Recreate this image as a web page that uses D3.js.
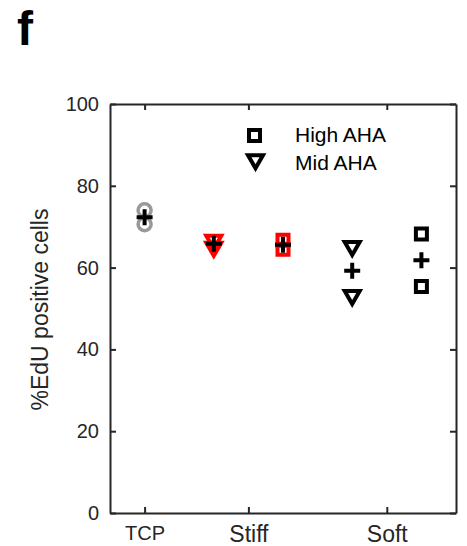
<!DOCTYPE html>
<html>
<head>
<meta charset="utf-8">
<script src="https://cdn.jsdelivr.net/npm/d3@7"></script>
<style>
  body { margin: 0; background: #fff; }
  svg { display: block; font-family: "Liberation Sans", Arial, sans-serif; }
</style>
</head>
<body>
<svg id="chart" width="467" height="546"></svg>
<script>
// Category axis labels and where they sit on the numeric x axis
const categories = ["TCP", "Stiff", "Soft"];
const categoryPos = [1, 4, 8];
const yTicks = [0, 20, 40, 60, 80, 100];

// Replicate values (%EdU positive cells) per condition
const tcpValues = [74.0, 70.6];
const stiffMidValues = [66.7, 65.0];
const stiffHighValues = [66.7, 64.5];
const softMidValues = [65.2, 53.2];
const softHighValues = [68.2, 55.4];

// x position of each condition group
const groupX = { tcp: 1, stiffMid: 3, stiffHigh: 5, softMid: 7, softHigh: 9 };

const legendLabels = ["High AHA", "Mid AHA"];

const svg = d3.select("#chart");
const axisColor = "#262626";

const x = d3.scaleLinear().domain([0, 10]).range([110, 456]);
const y = d3.scaleLinear().domain([0, 100]).range([513, 104]);

// Marker shapes
const TRI_A = 7.5, TRI_H = TRI_A * Math.sqrt(3);
const triDown = `M${-TRI_A},${-TRI_H / 3}L${TRI_A},${-TRI_H / 3}L0,${2 * TRI_H / 3}Z`;
const SQ = 5.5;
const squarePath = `M${-SQ},${-SQ}H${SQ}V${SQ}H${-SQ}Z`;
const PL = 8;
const plusPath = `M${-PL},0H${PL}M0,${-PL}V${PL}`;

function drawMarkers(values, gx, path, color, width) {
  svg.append("g").selectAll("path")
    .data(values).join("path")
    .attr("d", path)
    .attr("transform", d => `translate(${x(gx)},${y(d)})`)
    .attr("fill", "none")
    .attr("stroke", color)
    .attr("stroke-width", width);
}
function drawCircles(values, gx, color) {
  svg.append("g").selectAll("circle")
    .data(values).join("circle")
    .attr("cx", x(gx)).attr("cy", d => y(d)).attr("r", 6.5)
    .attr("fill", "none").attr("stroke", color).attr("stroke-width", 3.5);
}
function drawMean(values, gx) {
  svg.append("path")
    .attr("d", plusPath)
    .attr("transform", `translate(${x(gx)},${y(d3.mean(values))})`)
    .attr("fill", "none").attr("stroke", "#000").attr("stroke-width", 4);
}

// Axes (box with inward ticks)
const gLeft = svg.append("g").attr("transform", `translate(${x(0)},0)`)
  .call(d3.axisLeft(y).tickValues(yTicks).tickSizeInner(-6).tickSizeOuter(0).tickPadding(11));
const gRight = svg.append("g").attr("transform", `translate(${x(10)},0)`)
  .call(d3.axisRight(y).tickValues(yTicks).tickSizeInner(-6).tickSizeOuter(0).tickFormat(""));
const gTop = svg.append("g").attr("transform", `translate(0,${y(100)})`)
  .call(d3.axisTop(x).tickValues(categoryPos).tickSizeInner(-6).tickSizeOuter(0).tickFormat(""));
const gBottom = svg.append("g").attr("transform", `translate(0,${y(0)})`)
  .call(d3.axisBottom(x).tickValues(categoryPos).tickSizeInner(-6).tickSizeOuter(0)
    .tickFormat((d, i) => categories[i]).tickPadding(13));

[gLeft, gRight, gTop, gBottom].forEach(g => {
  g.select(".domain").attr("stroke", axisColor).attr("stroke-width", 2);
  g.selectAll(".tick line").attr("stroke", axisColor).attr("stroke-width", 2);
  g.selectAll("text").attr("fill", axisColor).attr("font-family", "Liberation Sans, Arial, sans-serif");
});
gLeft.selectAll("text").attr("font-size", 20);
gBottom.selectAll("text")
  .attr("font-size", (d, i) => i === 0 ? 20 : 23)
  .attr("dy", "0.71em");

// Y axis title
svg.append("text")
  .attr("transform", `translate(48,${(y(0) + y(100)) / 2 + 1}) rotate(-90)`)
  .attr("text-anchor", "middle")
  .attr("font-size", 23)
  .attr("fill", axisColor)
  .text("%EdU positive cells");

// Panel letter
svg.append("text")
  .attr("x", 17).attr("y", 45)
  .attr("font-size", 48).attr("font-weight", "bold")
  .attr("fill", "#000")
  .text("f");

// Data markers
drawCircles(tcpValues, groupX.tcp, "#999999");
drawMarkers(stiffMidValues, groupX.stiffMid, triDown, "#ff0000", 4);
drawMarkers(stiffHighValues, groupX.stiffHigh, squarePath, "#ff0000", 4);
drawMarkers(softMidValues, groupX.softMid, triDown, "#000", 4);
drawMarkers(softHighValues, groupX.softHigh, squarePath, "#000", 4);

// Group means
drawMean(tcpValues, groupX.tcp);
drawMean(stiffMidValues, groupX.stiffMid);
drawMean(stiffHighValues, groupX.stiffHigh);
drawMean(softMidValues, groupX.softMid);
drawMean(softHighValues, groupX.softHigh);

// Legend
const legend = svg.append("g");
legend.append("path").attr("d", squarePath)
  .attr("transform", "translate(254.5,135.5)")
  .attr("fill", "none").attr("stroke", "#000").attr("stroke-width", 4);
legend.append("path").attr("d", triDown)
  .attr("transform", "translate(255.5,159.5)")
  .attr("fill", "none").attr("stroke", "#000").attr("stroke-width", 4);
legend.selectAll("text")
  .data(legendLabels).join("text")
  .attr("x", 295)
  .attr("y", (d, i) => 142 + i * 28)
  .attr("font-size", 21)
  .attr("fill", "#000")
  .text(d => d);
</script>
</body>
</html>
